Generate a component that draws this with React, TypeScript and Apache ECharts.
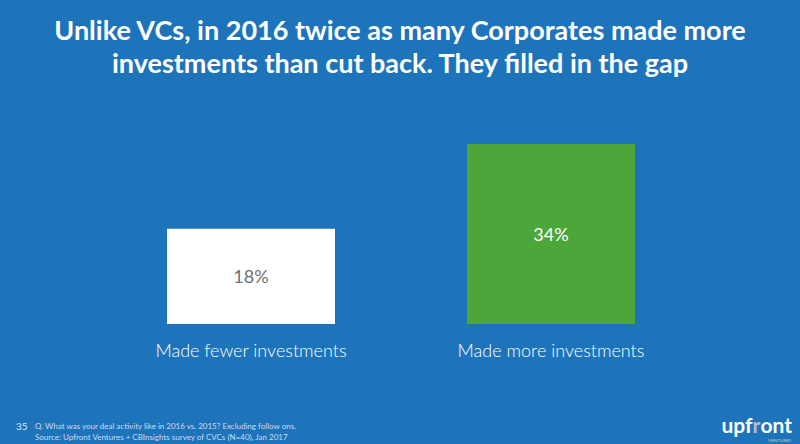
import React, { useEffect, useRef } from "react";
import * as echarts from "echarts";

const categories = ["Made fewer investments", "Made more investments"];
const values = [18, 34];
const barColors = ["#ffffff", "#4ca63a"];
const labelColors = ["#707070", "#ffffff"];
const titleLines = [
  "Unlike VCs, in 2016 twice as many Corporates made more",
  "investments than cut back. They filled in the gap",
];
const footerLines = [
  "Q. What was your deal activity like in 2016 vs. 2015? Excluding follow ons.",
  "Source: Upfront Ventures + CBInsights survey of CVCs (N=40), Jan 2017",
];
const pageNumber = "35";

export default function App() {
  const ref = useRef<HTMLDivElement>(null);
  useEffect(() => {
    if (!ref.current) return;
    const chart = echarts.init(ref.current, null, { renderer: "svg" });
    chart.setOption({
      animation: false,
      backgroundColor: "#1e74bb",
      title: {
        text: titleLines.join("\n"),
        left: "center",
        top: 8,
        textStyle: {
          color: "#ffffff",
          fontFamily: "Lato",
          fontWeight: "bold",
          fontSize: 27,
          lineHeight: 33,
        },
      },
      grid: { left: 101, right: 99, top: 144, bottom: 120 },
      xAxis: {
        type: "category",
        data: categories,
        axisLine: { show: false },
        axisTick: { show: false },
        axisLabel: {
          color: "#ffffff",
          fontFamily: "Lato",
          fontWeight: 300,
          fontSize: 18,
          margin: 17,
        },
      },
      yAxis: {
        type: "value",
        min: 0,
        max: 34,
        show: false,
        splitLine: { show: false },
      },
      series: [
        {
          type: "bar",
          barWidth: "56%",
          data: values.map((v, i) => ({
            value: v,
            itemStyle: { color: barColors[i] },
            label: {
              show: true,
              position: "inside",
              formatter: "{c}%",
              color: labelColors[i],
              fontFamily: "Lato",
              fontSize: 18,
            },
          })),
        },
      ],
      graphic: [
        {
          type: "text",
          left: 16,
          top: 421,
          style: { text: pageNumber, fill: "#dce8f4", font: "10px Lato" },
        },
        {
          type: "text",
          left: 35,
          top: 420,
          style: {
            text: footerLines.join("\n"),
            fill: "#c9dcef",
            font: "8px Lato",
            lineHeight: 11,
          },
        },
        {
          type: "text",
          right: 8,
          top: 414,
          style: {
            text: "{a|upf}{b|r}{a|ont}",
            rich: {
              a: { fill: "#ffffff", font: "bold 21px Lato", lineHeight: 16 },
              b: { fill: "#b8bcc4", font: "bold 21px Lato", lineHeight: 16 },
            },
          },
        },
        {
          type: "text",
          right: 9,
          top: 438,
          style: { text: "VENTURES", fill: "#c8cdd6", font: "4.5px Lato" },
        },
      ],
    });
    return () => chart.dispose();
  }, []);
  return (
    <div
      ref={ref}
      style={{ position: "fixed", left: 0, top: 0, width: 800, height: 444 }}
    />
  );
}
